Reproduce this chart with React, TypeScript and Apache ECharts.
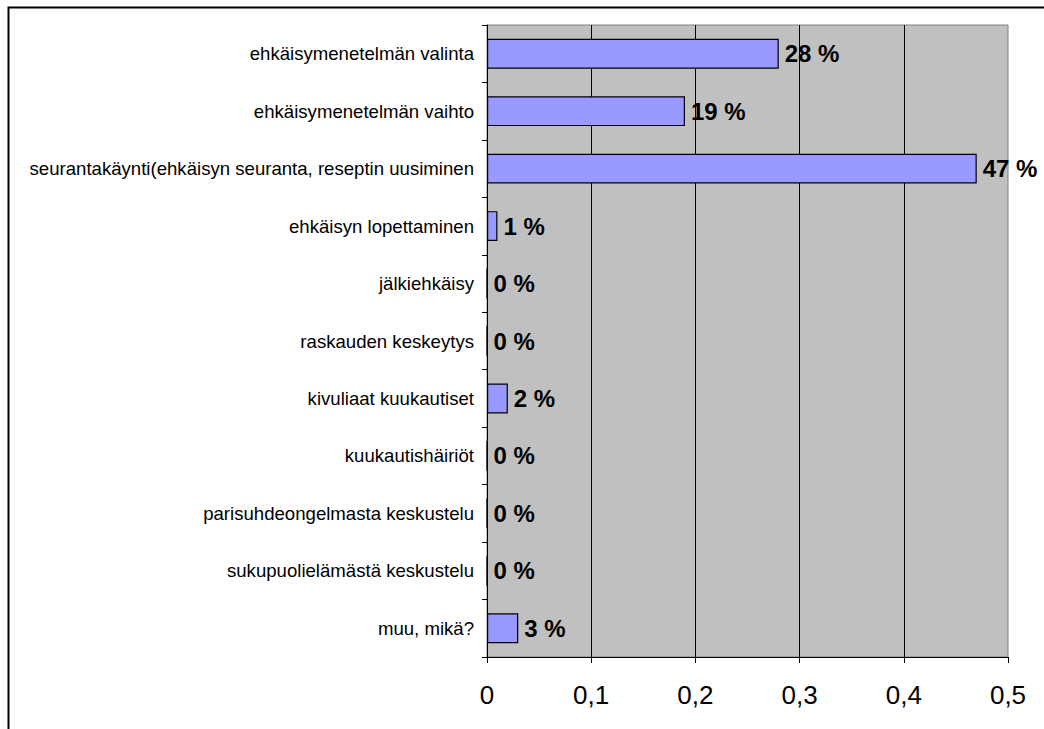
import React, { useEffect, useRef } from "react";
import * as echarts from "echarts";

const categories = [
  "ehkäisymenetelmän valinta",
  "ehkäisymenetelmän vaihto",
  "seurantakäynti(ehkäisyn seuranta, reseptin uusiminen",
  "ehkäisyn lopettaminen",
  "jälkiehkäisy",
  "raskauden keskeytys",
  "kivuliaat kuukautiset",
  "kuukautishäiriöt",
  "parisuhdeongelmasta keskustelu",
  "sukupuolielämästä keskustelu",
  "muu, mikä?",
];

const shares = [0.28, 0.19, 0.47, 0.01, 0, 0, 0.02, 0, 0, 0, 0.03];

const FONT = "'Liberation Sans', Arial, sans-serif";

export default function App() {
  const ref = useRef<HTMLDivElement>(null);

  useEffect(() => {
    if (!ref.current) return;
    const chart = echarts.init(ref.current, null, { renderer: "svg" });
    chart.setOption({
      animation: false,
      backgroundColor: "#ffffff",
      textStyle: { fontFamily: FONT },
      graphic: [
        {
          type: "rect",
          shape: { x: 8.5, y: 7.5, width: 1100, height: 800 },
          style: { fill: "none", stroke: "#000", lineWidth: 2 },
          silent: true,
          z: 100,
        },
      ],
      grid: {
        left: 487,
        right: 36,
        top: 25,
        bottom: 72,
        show: true,
        backgroundColor: "#C0C0C0",
        borderColor: "#808080",
        borderWidth: 1,
      },
      xAxis: {
        type: "value",
        min: 0,
        max: 0.5,
        interval: 0.1,
        axisLine: { show: true, lineStyle: { color: "#000", width: 1 } },
        axisTick: { show: true, length: 6, lineStyle: { color: "#000" } },
        axisLabel: {
          margin: 25,
          fontSize: 26,
          color: "#000",
          fontFamily: FONT,
          formatter: (v: number) => String(Math.round(v * 10) / 10).replace(".", ","),
        },
        splitLine: {
          show: true,
          showMinLine: false,
          showMaxLine: false,
          lineStyle: { color: "#000", width: 1 },
        },
      },
      yAxis: {
        type: "category",
        inverse: true,
        data: categories,
        axisLine: { show: true, lineStyle: { color: "#000", width: 1 } },
        axisTick: { show: true, length: 5, lineStyle: { color: "#000" } },
        axisLabel: {
          margin: 13,
          fontSize: 18.6,
          color: "#000",
          fontFamily: FONT,
        },
      },
      series: [
        {
          type: "bar",
          data: shares,
          barWidth: "52%",
          itemStyle: { color: "#9999FF", borderColor: "#000", borderWidth: 1.2 },
          label: {
            show: true,
            position: "right",
            distance: 6,
            fontSize: 24,
            fontWeight: "bold",
            color: "#000",
            fontFamily: FONT,
            formatter: (p: any) => `${Math.round(p.value * 100)} %`,
          },
        },
      ],
    });
    return () => chart.dispose();
  }, []);

  return (
    <div
      ref={ref}
      style={{ position: "fixed", left: 0, top: 0, width: 1044, height: 729 }}
    />
  );
}
